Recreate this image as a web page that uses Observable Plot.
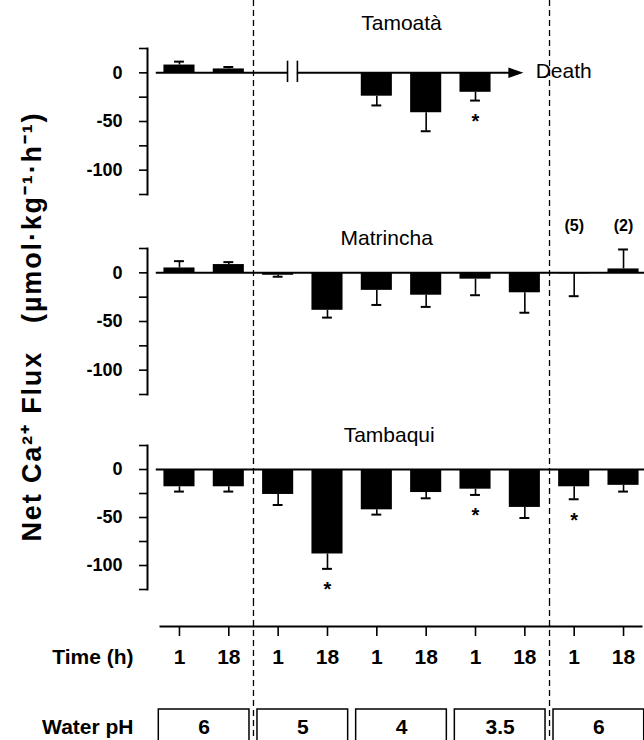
<!DOCTYPE html>
<html><head><meta charset="utf-8">
<script src="https://cdn.jsdelivr.net/npm/d3@7"></script>
<script src="https://cdn.jsdelivr.net/npm/@observablehq/plot@0.6"></script>
<style>
body{margin:0;background:#fff;}
#chart{width:644px;}
#chart svg{display:block;overflow:visible;}
</style></head><body><div id="chart"></div>
<script>
// ---- data ----
const timeLabels = ["1", "18", "1", "18", "1", "18", "1", "18", "1", "18"];
const phLabels = ["6", "5", "4", "3.5", "6"];
const phFirst = [0, 2, 4, 6, 8];
const phLast = [1, 3, 5, 7, 9];
const periodBoundaries = [1.5, 7.5];

const tamoataMean = [8, 4, null, null, -24, -41, -20, null, null, null];
const tamoataSem  = [3.5, 2, null, null, 9.5, 19, 8.5, null, null, null];
const tamoataStars = [6];
const tamoataBreak = [2.19, 2.39];
const tamoataDeathAt = 6.97;
const tamoataDeathLabel = "Death";

const matrinchaMean = [5, 8.5, -2.5, -38.5, -18, -23, -6.5, -20.5, -1, 4];
const matrinchaSem  = [7, 2.5, 1.5, 7.5, 15, 12, 16.5, 20.5, 23, 20];
const matrinchaNotes = [null, null, null, null, null, null, null, null, "(5)", "(2)"];

const tambaquiMean = [-18, -18, -26, -88, -42, -24, -20.5, -39.5, -18, -16.5];
const tambaquiSem  = [5, 5, 11, 15.5, 5, 6, 6, 11, 13, 6.5];
const tambaquiStars = [3, 6, 8];

const yTicks = [25, 0, -25, -50, -75, -100, -125];
const yLabeled = [0, -50, -100];
const yLabel = "Net Ca\u00B2\u207A Flux   (\u00B5mol\u00B7kg\u207B\u00B9\u00B7h\u207B\u00B9)";
const rowLabels = ["Time (h)", "Water pH"];

// ---- layout ----
const font = "'Liberation Sans', Arial, Helvetica, sans-serif";
const xScale = {domain: [-0.5, 9.5], range: [154.3, 647.7], axis: null};
const barHalf = 0.315, capHalf = 0.1;
const dash = "6,4";
const style = {fontFamily: font, background: "transparent", overflow: "visible", color: "black"};
const arrowHead = {draw(ctx, size) { const r = Math.sqrt(size / Math.PI); ctx.moveTo(0, 0); ctx.lineTo(-2 * r, -0.7 * r); ctx.lineTo(-2 * r, 0.7 * r); ctx.closePath(); }};

function panel({title, titleX, titleDy, mean, sem, stars = [], notes = null, height, mt, mb, zeroSegments, extra = []}) {
  const rows = mean.map((m, i) => ({i, m, s: sem[i]})).filter(d => d.m != null);
  const errEnd = d => d.m + (d.m < 0 ? -d.s : d.s);
  const starRows = stars.map(i => rows.find(r => r.i === i));
  const noteRows = notes ? notes.map((t, i) => ({i, t})).filter(d => d.t) : [];
  return Plot.plot({
    width: 644, height, marginTop: mt, marginBottom: mb, marginLeft: 147, marginRight: 0,
    x: xScale,
    y: {domain: [-125, 25]},
    style,
    marks: [
      Plot.ruleX(periodBoundaries, {x: d => d, stroke: "black", strokeWidth: 1.3, strokeDasharray: dash, insetTop: -mt, insetBottom: -mb}),
      Plot.frame({anchor: "left", strokeWidth: 2}),
      Plot.axisY({ticks: yTicks, tickSize: 8, tickPadding: 17, strokeWidth: 1.6, tickFormat: d => yLabeled.includes(d) ? String(d) : "", fontSize: 18, fontWeight: "bold", label: null}),
      Plot.rectY(rows, {x1: d => d.i - barHalf, x2: d => d.i + barHalf, y1: () => 0, y2: "m", fill: "black"}),
      Plot.ruleX(rows, {x: "i", y1: "m", y2: errEnd, strokeWidth: 1.6}),
      Plot.ruleY(rows, {y: errEnd, x1: d => d.i - capHalf, x2: d => d.i + capHalf, strokeWidth: 2}),
      Plot.ruleY(zeroSegments, {y: () => 0, x1: "from", x2: "to", strokeWidth: 2}),
      Plot.text([title], {x: () => titleX, frameAnchor: "top", lineAnchor: "middle", dy: titleDy, fontSize: 21}),
      Plot.text(starRows, {x: "i", y: errEnd, dy: 21, text: () => "*", fontSize: 20, fontWeight: "bold"}),
      Plot.text(noteRows, {x: "i", text: "t", frameAnchor: "top", lineAnchor: "middle", dy: -23, fontSize: 16, fontWeight: "bold"}),
      ...extra
    ]
  });
}

const chart = document.getElementById("chart");

chart.append(panel({
  title: "Tamoatà", titleX: 4.5, titleDy: -25, mean: tamoataMean, sem: tamoataSem, stars: tamoataStars,
  height: 200, mt: 48, mb: 6,
  zeroSegments: [{from: -0.47, to: tamoataBreak[0]}, {from: tamoataBreak[1], to: tamoataDeathAt - 0.2}],
  extra: [
    Plot.ruleX(tamoataBreak, {x: d => d, y1: () => 12, y2: () => -10, strokeWidth: 1.6}),
    Plot.dot([tamoataDeathAt], {x: d => d, y: () => 0, r: 7.5, symbol: arrowHead, fill: "black", stroke: "none"}),
    Plot.text([tamoataDeathLabel], {x: () => tamoataDeathAt + 0.25, y: () => 0, dy: -2, textAnchor: "start", fontSize: 21})
  ]
}));

chart.append(panel({
  title: "Matrincha", titleX: 4.2, titleDy: -10, mean: matrinchaMean, sem: matrinchaSem, notes: matrinchaNotes,
  height: 198, mt: 48, mb: 4,
  zeroSegments: [{from: -0.47, to: 9.5}],
  extra: [
    Plot.text([yLabel], {frameAnchor: "left", textAnchor: "middle", lineAnchor: "middle", rotate: -90, dx: -115, dy: 6, fontSize: 27, fontWeight: "bold"})
  ]
}));

chart.append(panel({
  title: "Tambaqui", titleX: 4.25, titleDy: -10, mean: tambaquiMean, sem: tambaquiSem, stars: tambaquiStars,
  height: 202, mt: 47, mb: 11,
  zeroSegments: [{from: -0.47, to: 9.5}]
}));

chart.append(Plot.plot({
  width: 644, height: 140, marginTop: 26, marginBottom: 0, marginLeft: 160, marginRight: 3,
  x: xScale,
  y: {type: "band", domain: rowLabels, range: [22, 162], paddingInner: 0.486, paddingOuter: 0.243},
  style,
  marks: [
    Plot.ruleX(periodBoundaries, {x: d => d, stroke: "black", strokeWidth: 1.3, strokeDasharray: dash, insetTop: -26}),
    Plot.frame({anchor: "top", strokeWidth: 2}),
    Plot.ruleX(timeLabels, {x: (d, i) => i, insetBottom: 104, strokeWidth: 1.6}),
    Plot.axisY({tickSize: 0, tickPadding: 27, fontSize: 21, fontWeight: "bold", label: null}),
    Plot.text(timeLabels, {x: (d, i) => i, y: () => "Time (h)", text: d => d, fontSize: 21, fontWeight: "bold"}),
    Plot.barX(phLabels, {x1: (d, i) => phFirst[i] - 0.5, x2: (d, i) => phLast[i] + 0.5, y: () => "Water pH", fill: "white", stroke: "black", strokeWidth: 1.5, insetLeft: 4, insetRight: 4}),
    Plot.text(phLabels, {x: (d, i) => (phFirst[i] + phLast[i]) / 2, y: () => "Water pH", text: d => d, fontSize: 21, fontWeight: "bold"})
  ]
}));

// spread the long rotated axis title to the length it has in the figure
for (const t of chart.querySelectorAll("text")) {
  if (t.textContent === yLabel) {
    t.setAttribute("textLength", 428);
    t.setAttribute("lengthAdjust", "spacing");
  }
}
</script></body></html>
